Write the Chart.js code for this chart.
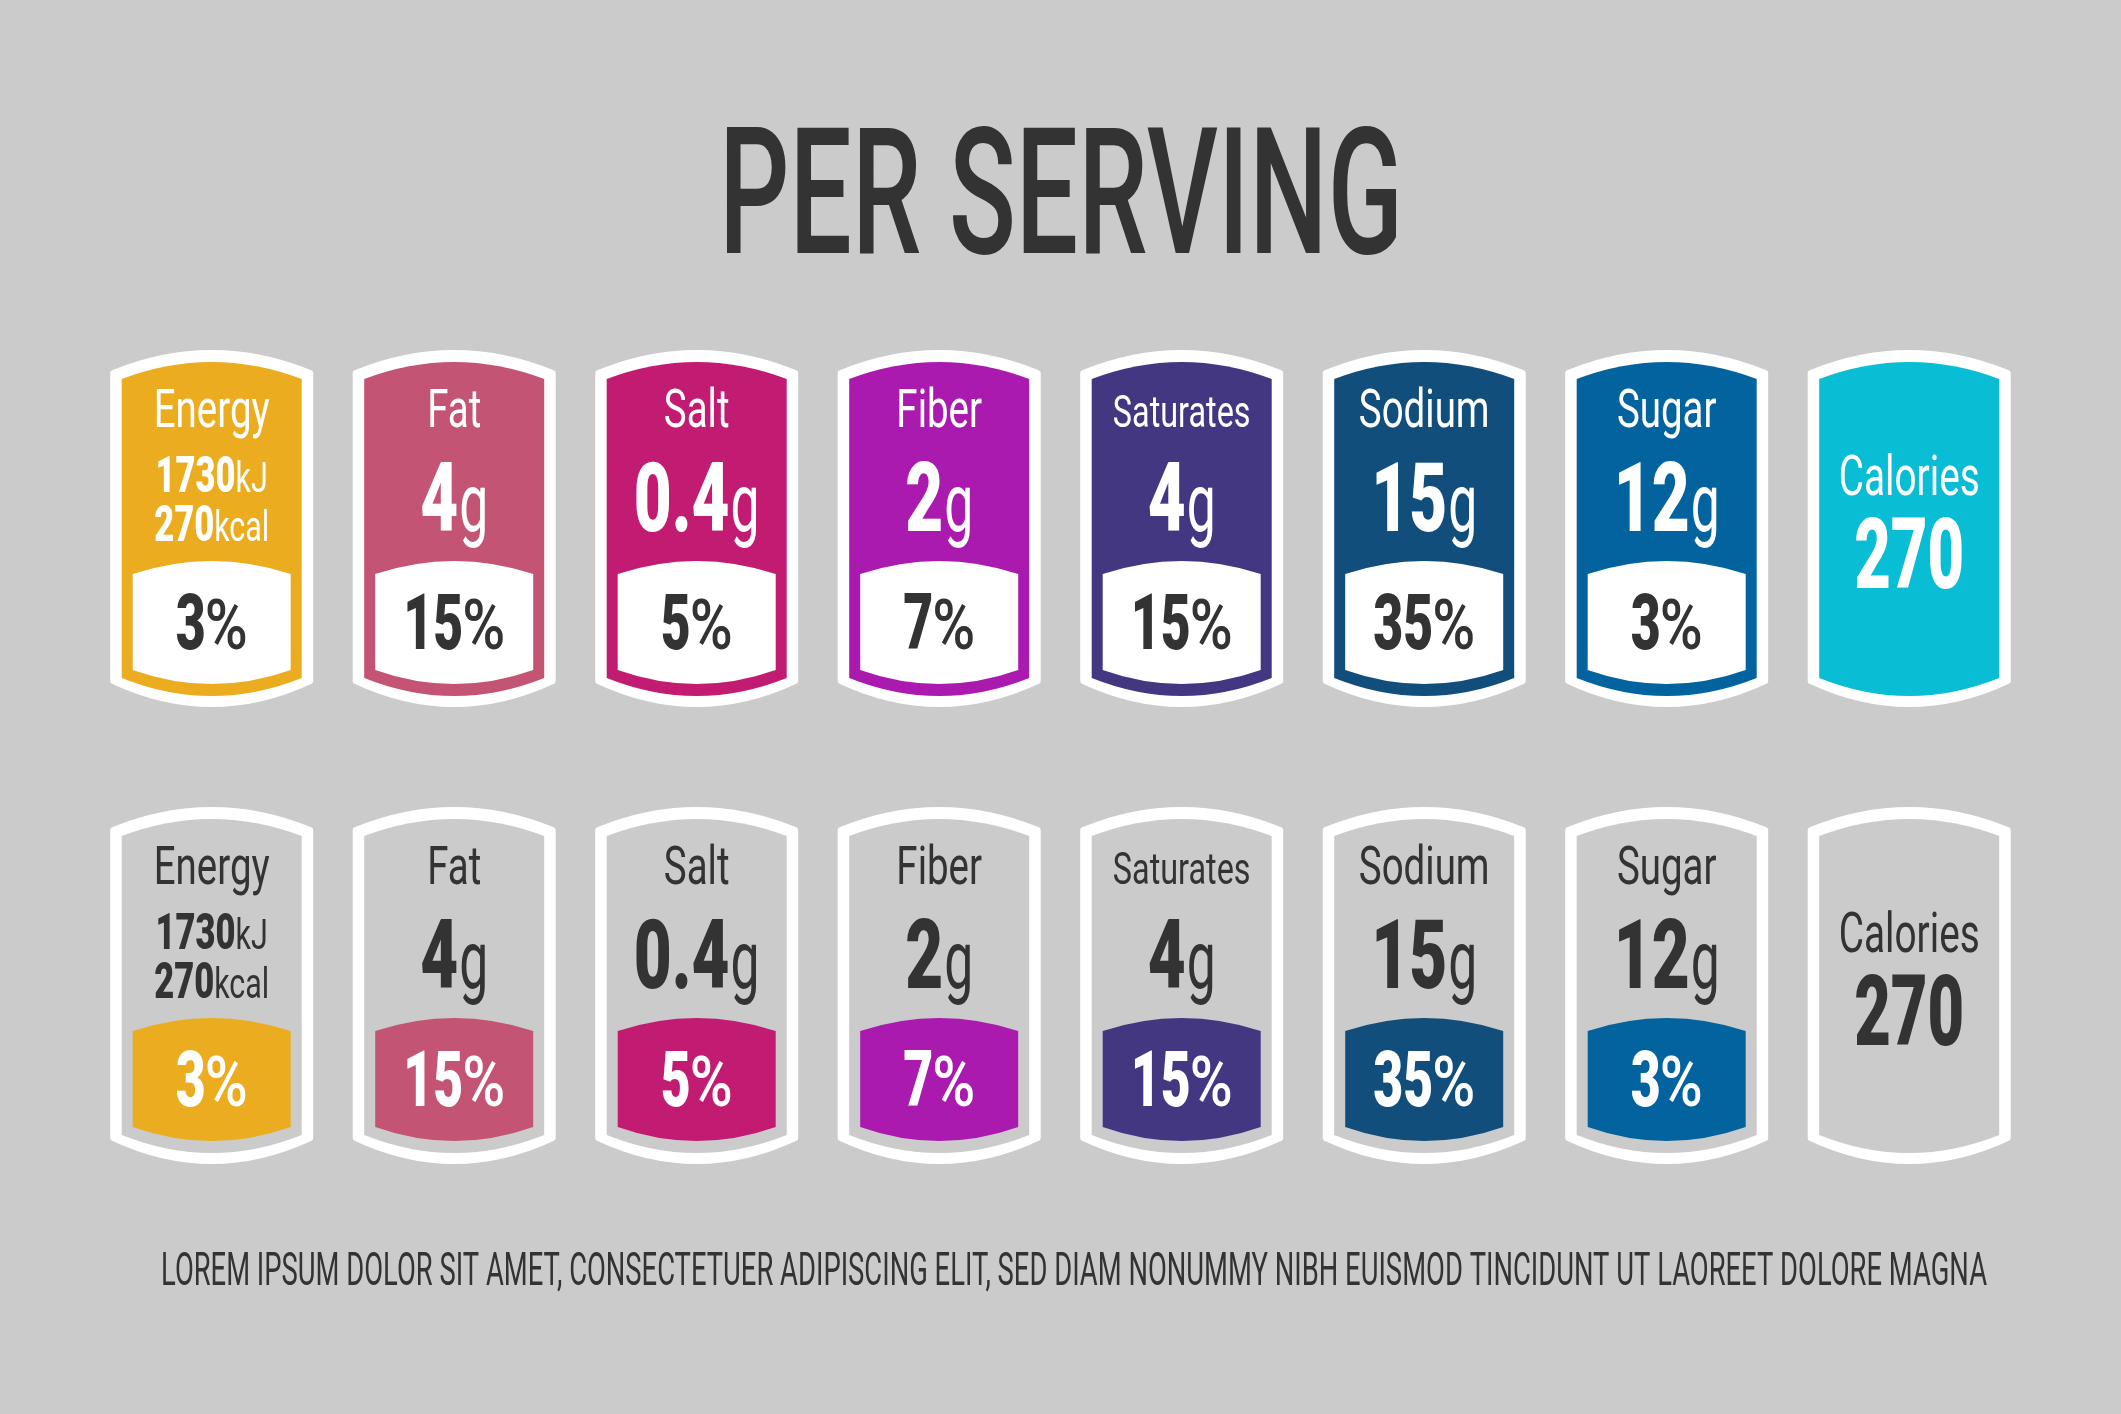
<!DOCTYPE html>
<html><head><meta charset="utf-8">
<style>html,body{margin:0;padding:0;background:#cbcbcb}canvas{display:block}</style>
<script src="https://cdn.jsdelivr.net/npm/chart.js@4/dist/chart.umd.min.js"></script>
</head><body><canvas id="c" width="2121" height="1414" style="width:2121px;height:1414px"></canvas>
<script>
const categories = ['Energy','Fat','Salt','Fiber','Saturates','Sodium','Sugar','Calories'];
const rows = ['Colour','Outline'];
const amounts = ['','4','0.4','2','4','15','12','270'];
const amountUnits = ['','g','g','g','g','g','g',''];
const energyValues = [['1730','kJ'],['270','kcal']];
const percents = [3,15,5,7,15,35,3,null];
const colours = ['#EBAD1F','#C45473','#C21C72','#AB1AAE','#433782','#114E7C','#03639E','#08BDD4'];
const titleText = 'PER SERVING';
const footerText = 'LOREM IPSUM DOLOR SIT AMET, CONSECTETUER ADIPISCING ELIT, SED DIAM NONUMMY NIBH EUISMOD TINCIDUNT UT LAOREET DOLORE MAGNA';

const BG='#cbcbcb', INK='#333333', WHITE='#ffffff', FF='Roboto';

function font(w,s){return w+' '+s+'px '+FF;}
function sx(ctx,ref,w,s,target){ctx.font=font(w,s);return target/ctx.measureText(ref).width;}
function runs(ctx,parts,cx,base,gap){
  let tot=0;
  parts.forEach((p,i)=>{ctx.font=font(p.w,p.s);p.adv=ctx.measureText(p.t).width*p.k;tot+=p.adv+(i?gap:0);});
  let x=cx-tot/2;
  ctx.textAlign='left';ctx.textBaseline='alphabetic';
  parts.forEach(p=>{
    ctx.save();ctx.font=font(p.w,p.s);ctx.translate(x,base);ctx.scale(p.k,1);ctx.fillText(p.t,0,0);
    ctx.restore();x+=p.adv+gap;
  });
}
function badge(ctx,cx,cy,hw,t,ts,bs,b){
  const l=cx-hw,r=cx+hw;
  ctx.beginPath();
  ctx.moveTo(l,cy+ts);
  ctx.quadraticCurveTo(cx,cy+2*t-ts,r,cy+ts);
  ctx.lineTo(r,cy+bs);
  ctx.quadraticCurveTo(cx,cy+2*b-bs,l,cy+bs);
  ctx.closePath();
}
const capToSize=c=>c/0.711;

const labelPlugin={
  id:'labels',
  afterDatasetsDraw(chart){
    const ctx=chart.ctx;
    ctx.save();
    ctx.fillStyle=INK;
    let s=capToSize(126);
    runs(ctx,[{t:titleText,w:500,s,k:sx(ctx,titleText,500,s,684)}],1061,253,0);
    s=capToSize(33);
    runs(ctx,[{t:footerText,w:400,s,k:sx(ctx,footerText,400,s,1826)}],1074,1285,0);

    chart.data.datasets.forEach((ds,di)=>{
      const meta=chart.getDatasetMeta(di);
      meta.data.forEach((pt,i)=>{
        const cx=pt.x,cy=pt.y,col=colours[i],filled=di===0;
        ctx.fillStyle=WHITE;ctx.strokeStyle=WHITE;ctx.lineWidth=6;ctx.lineJoin='round';
        badge(ctx,cx,cy,98.5,-175,-155,153,176);ctx.fill();ctx.stroke();
        ctx.fillStyle=filled?col:BG;
        badge(ctx,cx,cy,90,-166,-149,150,168);ctx.fill();
        if(percents[i]!==null){
          ctx.fillStyle=filled?WHITE:col;
          badge(ctx,cx,cy,79,33,46,142,156);ctx.fill();
          const ps=capToSize(55);
          ctx.fillStyle=filled?INK:WHITE;
          runs(ctx,[
            {t:String(percents[i]),w:900,s:ps,k:sx(ctx,'3',900,ps,30)},
            {t:'%',w:500,s:ps*0.9,k:sx(ctx,'%',500,ps*0.9,43)}
          ],cx,cy+121,-1);
        }
        ctx.fillStyle=filled?WHITE:INK;
        const name=categories[i];
        if(name==='Calories'){
          const ns=capToSize(39.5);
          runs(ctx,[{t:name,w:400,s:ns,k:sx(ctx,name,400,ns,141)}],cx,cy-33.5,0);
          const as=capToSize(70);
          runs(ctx,[{t:amounts[i],w:900,s:as,k:sx(ctx,amounts[i],900,as,110)}],cx,cy+60,0);
          return;
        }
        const cap=name==='Saturates'?32:38;
        const ns=capToSize(cap);
        const nk=sx(ctx,'Energy',400,capToSize(38),116);
        runs(ctx,[{t:name,w:400,s:ns,k:nk}],cx,cy-101.5,0);
        if(name==='Energy'){
          const ds2=capToSize(36),us=42;
          const dk=sx(ctx,'1730',900,ds2,80),uk=sx(ctx,'kcal',400,us,55);
          runs(ctx,[{t:energyValues[0][0],w:900,s:ds2,k:dk},{t:energyValues[0][1],w:400,s:us,k:uk}],cx,cy-36.3,0);
          runs(ctx,[{t:energyValues[1][0],w:900,s:ds2,k:dk},{t:energyValues[1][1],w:400,s:us,k:uk}],cx,cy+13.4,0);
        }else{
          const as=capToSize(68.5),us=81;
          runs(ctx,[
            {t:amounts[i],w:900,s:as,k:sx(ctx,'4',900,as,38)},
            {t:amountUnits[i],w:400,s:us,k:sx(ctx,'g',400,us,29)}
          ],cx,cy+3,1);
        }
      });
    });
    ctx.restore();
  }
};

function start(){
new Chart(document.getElementById('c'),{
  type:'scatter',
  data:{datasets:rows.map(r=>({label:r,data:categories.map(c=>({x:c,y:r})),pointRadius:0,pointHoverRadius:0}))},
  options:{
    responsive:false,animation:false,devicePixelRatio:1,
    layout:{padding:{left:90.45,right:90.55,top:299.5,bottom:200.5}},
    scales:{
      x:{type:'category',labels:categories,offset:true,display:false},
      y:{type:'category',labels:rows,offset:true,display:false}
    },
    plugins:{legend:{display:false},tooltip:{enabled:false},title:{display:false}}
  },
  plugins:[{id:'bg',beforeDraw(ch){ch.ctx.save();ch.ctx.fillStyle=BG;ch.ctx.fillRect(0,0,ch.width,ch.height);ch.ctx.restore();}},labelPlugin]
});
}
const need=['400 40px Roboto','500 40px Roboto','900 40px Roboto'];
Promise.all(need.map(f=>document.fonts.load(f))).then(start,start);
</script></body></html>
